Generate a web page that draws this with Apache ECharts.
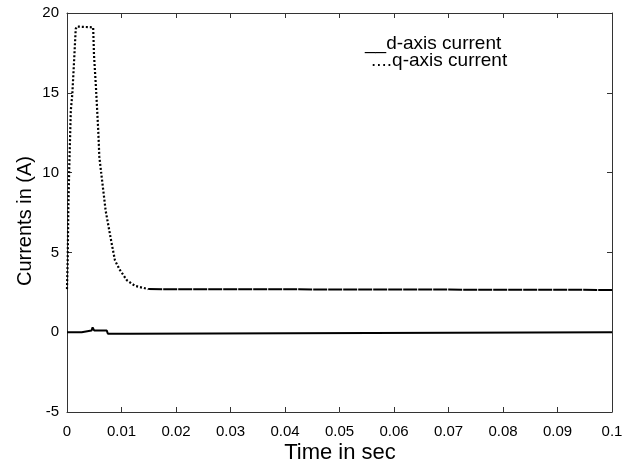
<!DOCTYPE html>
<html>
<head>
<meta charset="utf-8">
<script src="https://cdn.jsdelivr.net/npm/echarts@6/dist/echarts.min.js"></script>
<style>html,body{margin:0;padding:0;background:#fff;}#c{width:633px;height:464px;}</style>
</head>
<body>
<div id="c"></div>
<script>
// time (s) and q-axis current (A)
const qTime = [0, 0.00013, 0.00025, 0.0004, 0.0007, 0.00097, 0.0013, 0.0016, 0.0018, 0.0048, 0.00495, 0.00532, 0.00574, 0.00593, 0.00637, 0.0071, 0.0082, 0.0088, 0.0097, 0.011, 0.0125, 0.0149, 0.1];
const qCurrent = [2.7, 4.5, 7.8, 10.1, 13.9, 14.9, 17.0, 19.0, 19.15, 19.1, 17.4, 15.3, 12.6, 11.0, 9.7, 7.6, 5.55, 4.5, 3.9, 3.25, 2.9, 2.7, 2.65];
const qKnee = 21; // index where the trace becomes the steady (solid-looking) line
// time (s) and d-axis current (A)
const dTime = [0, 0.0027, 0.0028, 0.0045, 0.0047, 0.0048, 0.005, 0.0073, 0.0075, 0.0116, 0.0118, 0.1];
const dCurrent = [0, 0, 0.1, 0.1, 0.3, 0.2, 0.1, 0.1, -0.1, -0.1, 0, 0];
const legendLines = ['__d-axis current', '....q-axis current'];
const xTitle = 'Time in sec';
const yTitle = 'Currents in (A)';

const FONT = '"Liberation Sans", Arial, sans-serif';
const zip = (a, b) => a.map((v, i) => [v, b[i]]);
const qPts = zip(qTime, qCurrent);

const chart = echarts.init(document.getElementById('c'), null, {renderer: 'canvas'});
const axLine = {show: true, onZero: false, lineStyle: {color: '#333', width: 1}};
const tick = {show: true, inside: true, length: 5, lineStyle: {color: '#333'}};
chart.setOption({
  animation: false,
  backgroundColor: '#fff',
  grid: {left: 67, right: 21, top: 13, bottom: 52, containLabel: false},
  xAxis: [
    {type: 'value', min: 0, max: 0.1, interval: 0.01, position: 'bottom',
     axisLine: axLine, axisTick: tick, splitLine: {show: false},
     axisLabel: {fontFamily: FONT, fontSize: 15, color: '#000', margin: 12,
       formatter: v => String(+v.toFixed(2))}},
    {type: 'value', min: 0, max: 0.1, interval: 0.01, position: 'top',
     axisLine: axLine, axisTick: tick, splitLine: {show: false}, axisLabel: {show: false}}
  ],
  yAxis: [
    {type: 'value', min: -5, max: 20, interval: 5, position: 'left',
     axisLine: axLine, axisTick: tick, splitLine: {show: false},
     axisLabel: {fontFamily: FONT, fontSize: 15, color: '#000', margin: 8}},
    {type: 'value', min: -5, max: 20, interval: 5, position: 'right',
     axisLine: axLine, axisTick: tick, splitLine: {show: false}, axisLabel: {show: false}}
  ],
  series: [
    {type: 'line', data: zip(dTime, dCurrent), symbol: 'none',
     lineStyle: {color: '#000', width: 2}},
    {type: 'line', data: qPts.slice(0, qKnee + 1), symbol: 'none',
     lineStyle: {color: '#000', width: 2.2, type: [2, 2], cap: 'butt'}},
    {type: 'line', data: qPts.slice(qKnee), symbol: 'none',
     lineStyle: {color: '#000', width: 2, type: [14, 1]}}
  ],
  graphic: [
    {type: 'text', left: 365, top: 34, style: {text: legendLines[0], font: '19px ' + FONT, fill: '#000'}},
    {type: 'text', left: 371, top: 51, style: {text: legendLines[1], font: '19px ' + FONT, fill: '#000'}},
    {type: 'text', x: 340, y: 453, style: {text: xTitle, font: '22px ' + FONT, fill: '#000', align: 'center', verticalAlign: 'middle'}},
    {type: 'text', x: 25, y: 221, rotation: Math.PI / 2, style: {text: yTitle, font: '20px ' + FONT, fill: '#000', align: 'center', verticalAlign: 'middle'}}
  ]
});
</script>
</body>
</html>
